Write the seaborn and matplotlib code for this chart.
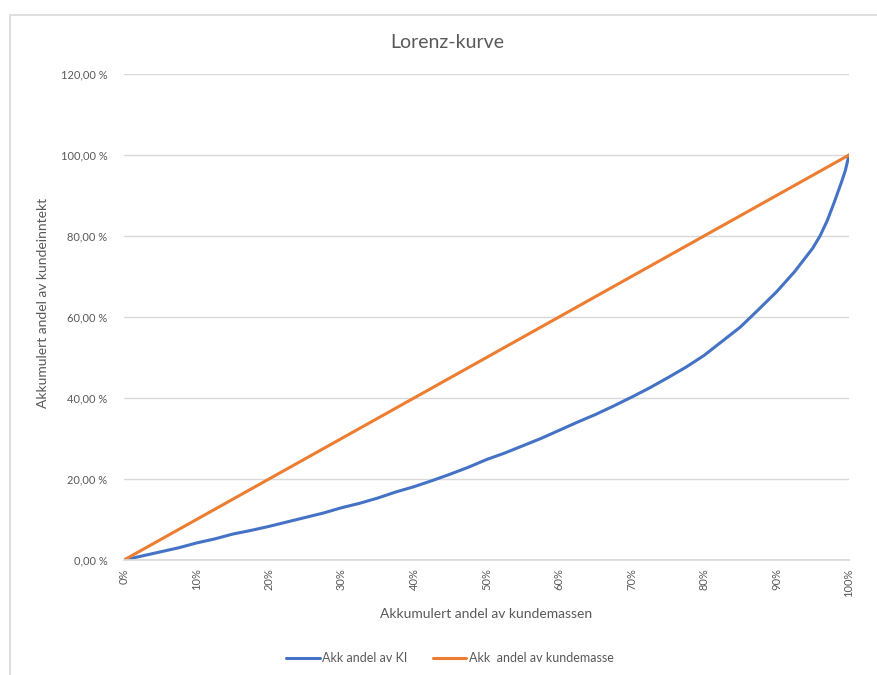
import matplotlib
matplotlib.use("Agg")
import matplotlib.pyplot as plt
from matplotlib.patches import Rectangle
from matplotlib.ticker import FuncFormatter
import pandas as pd
import seaborn as sns

# Cumulative share of customers (%)
kundemasse_x = [0, 2.5, 5, 7.5, 10, 12.5, 15, 17.5, 20, 22.5, 25, 27.5, 30, 32.5,
                35, 37.5, 40, 42.5, 45, 47.5, 50, 52.5, 55, 57.5, 60, 62.5, 65,
                67.5, 70, 72.5, 75, 77.5, 80, 82.5, 85, 87.5, 90, 92.5, 95, 96,
                97, 98, 99, 99.5, 100]

# Cumulative share of customer revenue (%)
andel_ki = [0, 1.0, 2.0, 3.0, 4.2, 5.2, 6.4, 7.3, 8.3, 9.4, 10.5, 11.6, 12.9, 14.0,
            15.3, 16.8, 18.1, 19.6, 21.2, 22.9, 24.8, 26.4, 28.2, 30.0, 32.0, 34.0,
            35.9, 38.0, 40.2, 42.5, 45.0, 47.6, 50.5, 54.0, 57.5, 61.8, 66.2, 71.2,
            77.0, 80.0, 83.8, 88.5, 93.5, 96.2, 100]

# Cumulative share of customer base (line of equality)
andel_kundemasse = [0, 2.5, 5, 7.5, 10, 12.5, 15, 17.5, 20, 22.5, 25, 27.5, 30, 32.5,
                    35, 37.5, 40, 42.5, 45, 47.5, 50, 52.5, 55, 57.5, 60, 62.5, 65,
                    67.5, 70, 72.5, 75, 77.5, 80, 82.5, 85, 87.5, 90, 92.5, 95, 96,
                    97, 98, 99, 99.5, 100]

series_names = ["Akk andel av KI", "Akk  andel av kundemasse"]
x_ticks = [0, 10, 20, 30, 40, 50, 60, 70, 80, 90, 100]
y_ticks = [0, 20, 40, 60, 80, 100, 120]

df = pd.concat([
    pd.DataFrame({"x": kundemasse_x, "y": andel_ki, "serie": series_names[0]}),
    pd.DataFrame({"x": kundemasse_x, "y": andel_kundemasse, "serie": series_names[1]}),
])

sns.set_theme(style="white")
plt.rcParams["font.family"] = ["Lato", "DejaVu Sans"]

text_color = "#595959"
grid_color = "#d9d9d9"

fig = plt.figure(figsize=(8.77, 6.75), dpi=100)
ax = fig.add_axes([124 / 877, 1 - 560 / 675, (849 - 124) / 877, (560 - 74) / 675])

sns.lineplot(data=df, x="x", y="y", hue="serie", palette=["#4472C4", "#ED7D31"],
             linewidth=2.2, ax=ax, legend=True, sort=False)

ax.set_xlim(0, 100)
ax.set_ylim(0, 120)
ax.set_xticks(x_ticks)
ax.set_yticks(y_ticks)
ax.xaxis.set_major_formatter(FuncFormatter(lambda v, p: f"{v:.0f}%"))
ax.yaxis.set_major_formatter(FuncFormatter(lambda v, p: f"{v:.2f}".replace(".", ",") + " %"))
ax.tick_params(axis="x", rotation=90, labelsize=8, colors=text_color, length=0, pad=6)
ax.tick_params(axis="y", labelsize=8, colors=text_color, length=0, pad=12)

ax.grid(axis="y", color=grid_color, linewidth=1)
ax.grid(axis="x", visible=False)
for side in ["top", "right", "left"]:
    ax.spines[side].set_visible(False)
ax.spines["bottom"].set_color(grid_color)
ax.set_axisbelow(True)

ax.set_xlabel("Akkumulert andel av kundemassen", fontsize=10, color=text_color, labelpad=8)
ax.set_ylabel("Akkumulert andel av kundeinntekt", fontsize=10, color=text_color)
ax.yaxis.set_label_coords(-0.104, 0.529)

fig.text(447 / 877, 1 - 42 / 675, "Lorenz-kurve", ha="center", va="center",
         fontsize=14, color=text_color)

handles, labels = ax.get_legend_handles_labels()
ax.get_legend().remove()
fig.legend(handles, labels, loc="center", bbox_to_anchor=(450 / 877, 1 - 658 / 675),
           ncol=2, frameon=False, fontsize=9, labelcolor=text_color,
           handlelength=2.7, columnspacing=2.0, handletextpad=0.2)

# chart area frame
fig.patches.append(Rectangle((10 / 877, -0.05), 1.2, 1 - 15 / 675 + 0.05,
                             transform=fig.transFigure, fill=False,
                             edgecolor=grid_color, linewidth=1.2))

fig.savefig("out.png", dpi=100)
